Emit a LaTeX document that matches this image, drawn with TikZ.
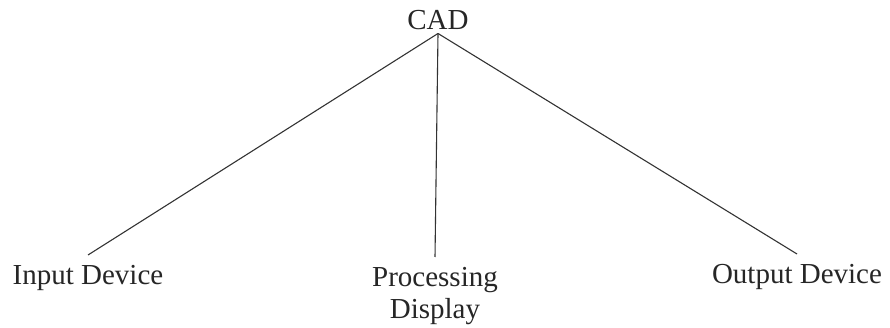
\documentclass[tikz,border=0pt]{standalone}
\usepackage{fontspec}
\setmainfont{Liberation Serif}
\begin{document}
\begin{tikzpicture}[x=1pt,y=-1pt,
  lbl/.style={font=\fontsize{29}{32}\selectfont, text=black!85,
              inner xsep=2pt, inner ysep=10pt, anchor=north},
  link/.style={draw=black!80, line width=1.1pt}]
\useasboundingbox (0,0) rectangle (890,328);
% root label and the three branches
\node[font=\fontsize{29}{32}\selectfont, text=black!85, inner sep=3pt, anchor=base] (cad) at (438,30) {CAD};
\node[lbl] (inp) at (88,255) {Input Device};
\node[lbl, align=center] (proc) at (435,257) {Processing\\Display};
\node[lbl] (outp) at (797,254) {Output Device};
\coordinate (apex) at (cad.south);
\draw[link] (apex) -- (inp.north);
\draw[link] (apex) -- (proc.north);
\draw[link] (apex) -- (outp.north);
\end{tikzpicture}
\end{document}
